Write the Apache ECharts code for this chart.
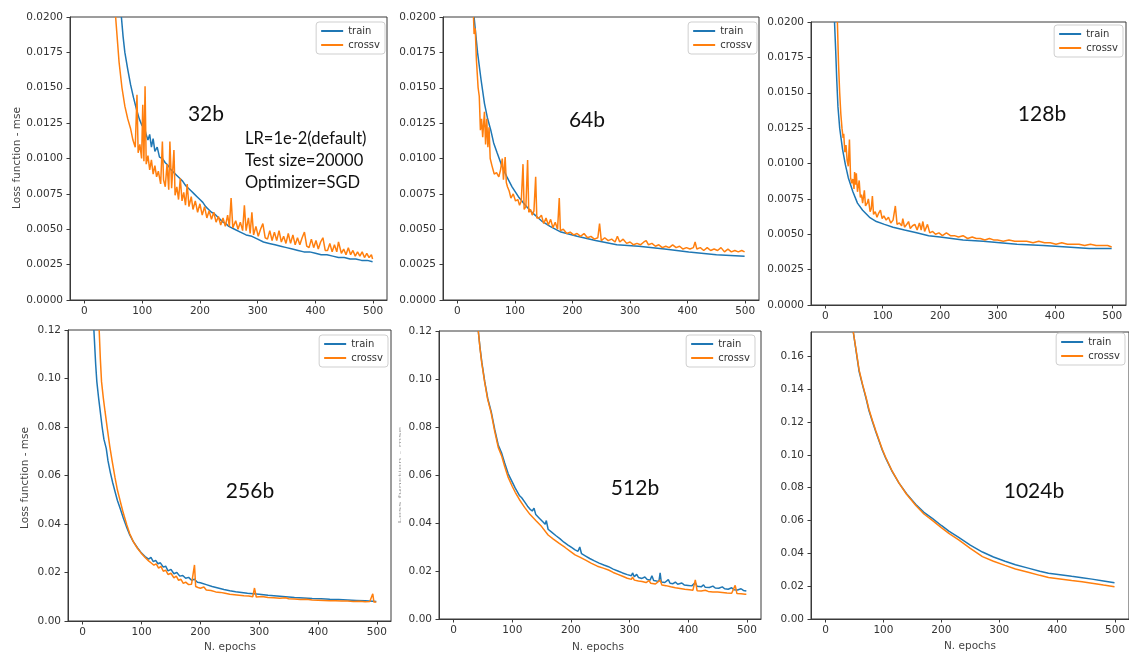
<!DOCTYPE html>
<html><head><meta charset="utf-8">
<script src="https://cdn.jsdelivr.net/npm/echarts@6/dist/echarts.min.js"></script>
<style>html,body{margin:0;padding:0;background:#fff}#c{width:1129px;height:653px}</style>
</head><body><div id="c"></div>
<script>
// ---------- data (epoch, loss) ----------
const xTickValues = [0, 100, 200, 300, 400, 500];
const yTicksTop = [0, 0.0025, 0.005, 0.0075, 0.01, 0.0125, 0.015, 0.0175, 0.02];
const yTicksBottom = [0, 0.02, 0.04, 0.06, 0.08, 0.10, 0.12];
const yTicks1024 = [0, 0.02, 0.04, 0.06, 0.08, 0.10, 0.12, 0.14, 0.16];
const seriesNames = ['train', 'crossv'];
const panelLabels = ['32b', '64b', '128b', '256b', '512b', '1024b'];
const noteLines = ['LR=1e-2(default)', 'Test size=20000', 'Optimizer=SGD'];

const train32 = [[64,0.0200],[67,0.0186],[70,0.0175],[75,0.0163],[80,0.0152],[85,0.0143],[90,0.0135],[95,0.0128],[100,0.0123],[103,0.0126],[106,0.0118],[110,0.0113],[113,0.0117],[116,0.0108],[119,0.0114],[122,0.0105],[126,0.0108],[130,0.0101],[135,0.0100],[140,0.0097],[145,0.0095],[150,0.0092],[155,0.0090],[160,0.0088],[165,0.0086],[170,0.0084],[175,0.0081],[180,0.0079],[185,0.0077],[190,0.0075],[195,0.0073],[200,0.0071],[205,0.0069],[210,0.0066],[215,0.0064],[220,0.0062],[225,0.0061],[230,0.0059],[235,0.0057],[240,0.0055],[245,0.0054],[250,0.0052],[260,0.0050],[270,0.0048],[280,0.0046],[290,0.0045],[300,0.0043],[310,0.0041],[320,0.0040],[330,0.0039],[340,0.0038],[350,0.0037],[360,0.0036],[370,0.0035],[380,0.0034],[390,0.0034],[400,0.0033],[410,0.0032],[420,0.0032],[430,0.0031],[440,0.0030],[450,0.0030],[460,0.0029],[470,0.0029],[480,0.0028],[490,0.0028],[499,0.0027]];
const cross32 = [[54,0.0200],[60,0.0168],[65,0.0150],[70,0.0137],[75,0.0128],[80,0.0121],[84,0.0113],[88,0.0108],[91,0.0145],[93,0.0104],[96,0.0110],[99,0.0100],[101,0.0138],[103,0.0098],[105,0.0151],[107,0.0096],[110,0.0102],[113,0.0092],[116,0.0099],[119,0.0089],[122,0.0095],[125,0.0087],[128,0.0091],[132,0.0082],[135,0.0112],[137,0.0085],[140,0.0080],[143,0.0096],[146,0.0078],[148,0.0112],[151,0.0079],[155,0.0106],[157,0.0074],[160,0.0080],[163,0.0071],[166,0.0086],[169,0.0070],[172,0.0076],[175,0.0067],[178,0.0082],[181,0.0066],[185,0.0073],[188,0.0064],[192,0.0070],[196,0.0062],[200,0.0068],[204,0.0060],[208,0.0066],[212,0.0058],[216,0.0063],[220,0.0057],[224,0.0062],[228,0.0055],[232,0.0059],[236,0.0053],[240,0.0058],[244,0.0052],[248,0.0060],[251,0.0052],[254,0.0072],[257,0.0051],[262,0.0056],[266,0.0050],[270,0.0055],[274,0.0049],[277,0.0067],[280,0.0049],[284,0.0058],[287,0.0047],[290,0.0062],[293,0.0046],[297,0.0052],[301,0.0045],[305,0.0050],[309,0.0054],[313,0.0044],[317,0.0043],[321,0.0049],[325,0.0042],[329,0.0048],[333,0.0042],[337,0.0049],[341,0.0041],[345,0.0045],[349,0.0040],[353,0.0047],[357,0.0040],[361,0.0046],[365,0.0039],[369,0.0044],[373,0.0039],[377,0.0044],[381,0.0048],[385,0.0038],[389,0.0037],[393,0.0043],[397,0.0037],[401,0.0042],[405,0.0036],[409,0.0041],[413,0.0044],[417,0.0035],[421,0.0035],[425,0.0040],[429,0.0034],[433,0.0039],[437,0.0034],[440,0.0041],[445,0.0033],[449,0.0036],[453,0.0032],[457,0.0037],[461,0.0032],[465,0.0035],[469,0.0031],[473,0.0034],[477,0.0031],[481,0.0034],[485,0.0030],[489,0.0033],[493,0.0030],[497,0.0032],[499,0.0029]];

const train64 = [[29,0.0200],[35,0.0175],[41,0.0156],[47,0.0139],[52,0.0129],[58,0.0120],[63,0.0111],[69,0.0104],[77,0.0095],[86,0.0087],[95,0.0080],[106,0.0073],[118,0.0067],[132,0.0061],[146,0.0056],[161,0.0052],[180,0.0048],[208,0.0045],[240,0.0042],[277,0.0039],[315,0.0038],[360,0.0036],[402,0.0034],[450,0.0032],[499,0.0031]];
const cross64 = [[28,0.0200],[29,0.0188],[31,0.0192],[33,0.0170],[36,0.0150],[38,0.0144],[40,0.0120],[42,0.0128],[44,0.0115],[47,0.0133],[49,0.0110],[51,0.0128],[53,0.0108],[55,0.0122],[57,0.0100],[60,0.0095],[64,0.0089],[68,0.0090],[72,0.0087],[75,0.0092],[78,0.0100],[80,0.0085],[83,0.0101],[85,0.0083],[87,0.0080],[90,0.0077],[93,0.0072],[97,0.0075],[101,0.0070],[105,0.0071],[108,0.0067],[111,0.0070],[114,0.0096],[116,0.0064],[119,0.0066],[122,0.0099],[124,0.0062],[127,0.0064],[130,0.0060],[133,0.0063],[136,0.0087],[138,0.0058],[142,0.0058],[146,0.0060],[150,0.0054],[154,0.0058],[158,0.0053],[162,0.0057],[166,0.0051],[170,0.0055],[174,0.0050],[177,0.0072],[179,0.0049],[184,0.0050],[190,0.0047],[196,0.0048],[202,0.0046],[208,0.0047],[214,0.0045],[220,0.0047],[226,0.0044],[232,0.0045],[238,0.0043],[244,0.0044],[247,0.0054],[250,0.0042],[256,0.0044],[262,0.0042],[268,0.0043],[274,0.0041],[278,0.0045],[282,0.0041],[288,0.0043],[294,0.0040],[300,0.0041],[306,0.0039],[312,0.0040],[318,0.0039],[324,0.0041],[328,0.0042],[332,0.0039],[338,0.0040],[344,0.0038],[350,0.0039],[356,0.0037],[362,0.0038],[368,0.0037],[374,0.0039],[380,0.0037],[386,0.0038],[392,0.0036],[398,0.0037],[404,0.0036],[410,0.0037],[413,0.0041],[416,0.0036],[422,0.0037],[428,0.0035],[434,0.0037],[440,0.0035],[446,0.0036],[452,0.0035],[458,0.0037],[464,0.0034],[470,0.0036],[476,0.0034],[482,0.0035],[488,0.0034],[494,0.0035],[499,0.0034]];

const train128 = [[16,0.0200],[18,0.0180],[20,0.0158],[22,0.0140],[25,0.0125],[30,0.0110],[35,0.0099],[40,0.0090],[48,0.0080],[56,0.0072],[65,0.0067],[77,0.0062],[89,0.0059],[103,0.0057],[118,0.0055],[138,0.0053],[159,0.0051],[180,0.0049],[200,0.0048],[240,0.0046],[275,0.0045],[334,0.0043],[380,0.0042],[421,0.0041],[460,0.0040],[499,0.0040]];
const cross128 = [[21,0.0200],[23,0.0170],[25,0.0150],[27,0.0135],[29,0.0125],[31,0.0118],[32,0.0121],[34,0.0108],[36,0.0113],[38,0.0102],[40,0.0098],[42,0.0117],[44,0.0090],[46,0.0086],[48,0.0089],[50,0.0082],[51,0.0094],[53,0.0085],[54,0.0093],[56,0.0080],[59,0.0088],[61,0.0076],[63,0.0078],[65,0.0072],[68,0.0081],[70,0.0070],[73,0.0072],[75,0.0075],[78,0.0066],[80,0.0068],[82,0.0077],[84,0.0064],[87,0.0066],[90,0.0062],[93,0.0065],[96,0.0067],[99,0.0061],[102,0.0063],[106,0.0060],[110,0.0062],[114,0.0058],[118,0.0060],[122,0.0070],[125,0.0057],[129,0.0058],[133,0.0056],[135,0.0061],[138,0.0055],[142,0.0057],[145,0.0059],[148,0.0054],[152,0.0056],[156,0.0057],[160,0.0053],[164,0.0058],[167,0.0053],[170,0.0059],[173,0.0052],[178,0.0057],[182,0.0051],[187,0.0052],[192,0.0050],[198,0.0051],[204,0.0049],[211,0.0051],[218,0.0049],[225,0.0049],[232,0.0048],[240,0.0049],[248,0.0047],[256,0.0048],[263,0.0047],[270,0.0047],[278,0.0046],[286,0.0047],[293,0.0046],[300,0.0046],[310,0.0045],[320,0.0046],[330,0.0045],[340,0.0045],[351,0.0045],[362,0.0044],[372,0.0045],[382,0.0044],[392,0.0044],[402,0.0043],[412,0.0044],[422,0.0043],[432,0.0043],[442,0.0043],[452,0.0042],[462,0.0043],[472,0.0042],[482,0.0042],[492,0.0042],[499,0.0041]];

const train256 = [[19,0.1200],[22,0.1060],[24,0.0987],[27,0.0920],[30,0.0860],[33,0.0800],[36,0.0750],[40,0.0712],[43,0.0660],[47,0.0612],[51,0.0570],[55,0.0533],[59,0.0497],[64,0.0462],[69,0.0425],[75,0.0385],[80,0.0355],[86,0.0327],[93,0.0302],[100,0.0280],[106,0.0266],[112,0.0255],[116,0.0262],[120,0.0245],[124,0.0250],[128,0.0236],[132,0.0240],[137,0.0222],[141,0.0226],[145,0.0207],[150,0.0213],[155,0.0195],[160,0.0200],[165,0.0185],[170,0.0188],[175,0.0176],[180,0.0180],[185,0.0168],[190,0.0172],[195,0.0160],[200,0.0158],[210,0.0150],[220,0.0142],[230,0.0136],[240,0.0130],[250,0.0125],[260,0.0121],[270,0.0118],[280,0.0114],[290,0.0112],[300,0.0110],[315,0.0106],[330,0.0103],[345,0.0100],[360,0.0097],[375,0.0095],[390,0.0093],[405,0.0092],[420,0.0090],[435,0.0089],[450,0.0087],[465,0.0085],[480,0.0083],[499,0.0080]];
const cross256 = [[28,0.1200],[30,0.1080],[32,0.0987],[35,0.0920],[38,0.0863],[42,0.0790],[46,0.0720],[50,0.0660],[55,0.0590],[59,0.0540],[64,0.0492],[69,0.0445],[75,0.0396],[80,0.0360],[86,0.0327],[93,0.0300],[100,0.0278],[106,0.0262],[112,0.0248],[117,0.0238],[121,0.0230],[125,0.0236],[129,0.0218],[133,0.0225],[137,0.0205],[141,0.0210],[145,0.0192],[150,0.0197],[155,0.0178],[159,0.0185],[163,0.0168],[167,0.0172],[171,0.0155],[175,0.0160],[180,0.0150],[185,0.0152],[188,0.0145],[190,0.0231],[192,0.0142],[196,0.0138],[200,0.0135],[206,0.0140],[210,0.0128],[218,0.0126],[226,0.0120],[234,0.0118],[242,0.0114],[250,0.0110],[258,0.0108],[266,0.0106],[274,0.0104],[282,0.0103],[289,0.0100],[292,0.0136],[295,0.0099],[305,0.0101],[315,0.0097],[325,0.0096],[335,0.0094],[345,0.0096],[350,0.0092],[360,0.0091],[370,0.0089],[380,0.0090],[390,0.0087],[400,0.0086],[410,0.0085],[420,0.0084],[430,0.0084],[440,0.0082],[450,0.0082],[460,0.0080],[470,0.0081],[480,0.0079],[488,0.0080],[493,0.0112],[495,0.0078],[499,0.0078]];

const train512 = [[42,0.1200],[45,0.1130],[48,0.1070],[53,0.0989],[58,0.0920],[64,0.0864],[70,0.0790],[76,0.0725],[78,0.0728],[82,0.0690],[87,0.0650],[93,0.0605],[96,0.0600],[100,0.0570],[105,0.0545],[107,0.0548],[112,0.0515],[116,0.0505],[121,0.0488],[126,0.0470],[130,0.0458],[134,0.0450],[137,0.0462],[140,0.0435],[146,0.0420],[152,0.0405],[156,0.0395],[158,0.0410],[161,0.0374],[167,0.0362],[174,0.0348],[181,0.0335],[188,0.0320],[195,0.0308],[201,0.0298],[207,0.0288],[212,0.0282],[215,0.0300],[218,0.0272],[225,0.0262],[232,0.0252],[240,0.0242],[248,0.0233],[256,0.0225],[264,0.0218],[272,0.0208],[280,0.0200],[288,0.0192],[296,0.0185],[303,0.0180],[305,0.0192],[308,0.0176],[312,0.0186],[315,0.0173],[321,0.0169],[326,0.0175],[330,0.0165],[335,0.0162],[338,0.0180],[341,0.0160],[346,0.0158],[350,0.0157],[352,0.0192],[354,0.0154],[360,0.0152],[366,0.0164],[369,0.0149],[374,0.0147],[378,0.0154],[382,0.0145],[389,0.0150],[393,0.0142],[400,0.0140],[406,0.0138],[412,0.0152],[415,0.0136],[422,0.0134],[426,0.0142],[429,0.0132],[436,0.0131],[442,0.0137],[446,0.0129],[452,0.0128],[458,0.0134],[462,0.0126],[468,0.0124],[474,0.0130],[478,0.0122],[484,0.0121],[490,0.0126],[494,0.0119],[499,0.0117]];
const cross512 = [[42,0.1200],[45,0.1125],[48,0.1065],[53,0.0985],[58,0.0915],[64,0.0858],[70,0.0782],[76,0.0715],[82,0.0678],[87,0.0635],[93,0.0590],[100,0.0552],[105,0.0528],[112,0.0498],[121,0.0465],[130,0.0436],[140,0.0410],[150,0.0385],[161,0.0350],[170,0.0333],[180,0.0315],[190,0.0298],[200,0.0280],[207,0.0267],[215,0.0258],[218,0.0262],[225,0.0245],[235,0.0232],[245,0.0220],[255,0.0212],[264,0.0204],[272,0.0194],[280,0.0186],[288,0.0178],[296,0.0170],[303,0.0165],[305,0.0175],[308,0.0162],[315,0.0158],[321,0.0156],[328,0.0152],[333,0.0160],[336,0.0149],[344,0.0146],[352,0.0162],[355,0.0142],[362,0.0139],[370,0.0134],[378,0.0130],[386,0.0127],[394,0.0124],[402,0.0122],[408,0.0120],[412,0.0163],[415,0.0118],[422,0.0117],[429,0.0120],[434,0.0115],[442,0.0113],[450,0.0112],[458,0.0110],[466,0.0108],[474,0.0107],[480,0.0140],[483,0.0106],[490,0.0105],[497,0.0103],[499,0.0103]];

const train1024 = [[48,0.1749],[53,0.1630],[58,0.1510],[64,0.1425],[70,0.1345],[75,0.1270],[81,0.1203],[87,0.1140],[93,0.1080],[98,0.1030],[104,0.0980],[115,0.0900],[127,0.0828],[140,0.0763],[156,0.0698],[170,0.0650],[185,0.0612],[200,0.0570],[213,0.0535],[230,0.0497],[250,0.0450],[271,0.0408],[290,0.0378],[310,0.0352],[328,0.0331],[350,0.0310],[370,0.0291],[385,0.0279],[405,0.0270],[425,0.0260],[443,0.0252],[460,0.0243],[480,0.0232],[499,0.0221]];
const cross1024 = [[48,0.1749],[53,0.1635],[58,0.1518],[64,0.1430],[70,0.1352],[75,0.1278],[81,0.1210],[87,0.1146],[93,0.1085],[98,0.1035],[104,0.0984],[115,0.0902],[127,0.0828],[140,0.0760],[156,0.0692],[170,0.0640],[185,0.0600],[200,0.0557],[213,0.0522],[230,0.0482],[250,0.0430],[271,0.0380],[290,0.0352],[310,0.0327],[328,0.0305],[350,0.0285],[370,0.0266],[385,0.0253],[405,0.0244],[425,0.0235],[443,0.0227],[460,0.0218],[480,0.0207],[499,0.0197]];

// ---------- layout ----------
const FONT = 'DejaVu Sans';
const BLUE = '#1f77b4', ORANGE = '#ff7f0e', SPINE = '#3a3a3a', TXT = '#333';
const panels = [
  {grid:{left:70, top:17, width:317, height:283}, yMax:0.02, yTicks:yTicksTop, dec:4, train:train32, cross:cross32, legend:{right:744, top:22}},
  {grid:{left:443, top:17, width:316, height:283}, yMax:0.02, yTicks:yTicksTop, dec:4, train:train64, cross:cross64, legend:{right:372, top:22}},
  {grid:{left:811, top:22, width:315, height:283}, yMax:0.02, yTicks:yTicksTop, dec:4, train:train128, cross:cross128, legend:{right:6, top:25}},
  {grid:{left:68, top:330, width:323, height:291}, yMax:0.12, yTicks:yTicksBottom, dec:2, train:train256, cross:cross256, legend:{right:741, top:335}},
  {grid:{left:439, top:331, width:322, height:288}, yMax:0.12, yTicks:yTicksBottom, dec:2, train:train512, cross:cross512, legend:{right:374, top:335}},
  {grid:{left:811, top:332, width:318, height:287}, yMax:0.1749, yTicks:yTicks1024, dec:2, train:train1024, cross:cross1024, legend:{right:4, top:333}}
];

const option = {animation:false, backgroundColor:'#fff', grid:[], xAxis:[], yAxis:[], series:[], legend:[], graphic:[]};
panels.forEach((p, i) => {
  option.grid.push(Object.assign({show:true, borderColor:SPINE, borderWidth:1, backgroundColor:'#fff'}, p.grid));
  option.xAxis.push({type:'value', gridIndex:i, min:-25, max:524,
    axisLine:{show:true, onZero:false, lineStyle:{color:SPINE}},
    axisTick:{show:true, length:3.5, lineStyle:{color:SPINE}, customValues:xTickValues},
    axisLabel:{color:TXT, fontFamily:FONT, fontSize:10.5, margin:6, customValues:xTickValues},
    splitLine:{show:false}});
  option.yAxis.push({type:'value', gridIndex:i, min:0, max:p.yMax,
    axisLine:{show:true, onZero:false, lineStyle:{color:SPINE}},
    axisTick:{show:true, length:3.5, lineStyle:{color:SPINE}, customValues:p.yTicks},
    axisLabel:{color:TXT, fontFamily:FONT, fontSize:10.5, margin:7, customValues:p.yTicks,
      formatter:v => v.toFixed(p.dec)},
    splitLine:{show:false}});
  option.series.push({name:seriesNames[0], type:'line', xAxisIndex:i, yAxisIndex:i, data:p.train,
    showSymbol:false, symbol:'none', clip:true, lineStyle:{color:BLUE, width:1.5}, itemStyle:{color:BLUE}});
  option.series.push({name:seriesNames[1], type:'line', xAxisIndex:i, yAxisIndex:i, data:p.cross,
    showSymbol:false, symbol:'none', clip:true, lineStyle:{color:ORANGE, width:1.5}, itemStyle:{color:ORANGE}});
  option.legend.push(Object.assign({data:seriesNames, orient:'vertical', icon:'rect', itemWidth:22, itemHeight:2,
    itemGap:4, padding:[4,5,4,5], borderColor:'#cfcfcf', borderWidth:1, borderRadius:3, backgroundColor:'#fff',
    selectedMode:false, textStyle:{color:TXT, fontFamily:FONT, fontSize:10}}, p.legend));
});

const annot = (text, x, y, size) => ({type:'text', x, y, z:100,
  style:{text, fill:'#111', font:size + 'px Lato', textAlign:'center', textVerticalAlign:'middle'}});
option.graphic.push(annot(panelLabels[0], 206, 114, 21));
option.graphic.push(annot(panelLabels[1], 587, 120, 21));
option.graphic.push(annot(panelLabels[2], 1042, 114, 21));
option.graphic.push(annot(panelLabels[3], 250, 491, 21));
option.graphic.push(annot(panelLabels[4], 635, 488, 21));
option.graphic.push(annot(panelLabels[5], 1034, 491, 21));
noteLines.forEach((t, k) => option.graphic.push({type:'text', x:245, y:139 + k * 22, z:100,
  style:{text:t, fill:'#111', font:'16.5px Lato', textAlign:'left', textVerticalAlign:'middle'}}));

const vlabel = (x, y, extra) => Object.assign({type:'text', x, y, rotation:Math.PI/2, z:100,
  style:{text:'Loss function - mse', fill:'#444', font:'10.5px "DejaVu Sans"', textAlign:'center', textVerticalAlign:'middle'}}, extra || {});
option.graphic.push(vlabel(17, 158));
option.graphic.push(vlabel(25, 478));
option.graphic.push(vlabel(400, 475, {scaleY:0.35, style:{text:'Loss function - mse', fill:'#999', font:'10px "DejaVu Sans"', textAlign:'center', textVerticalAlign:'middle'}}));
const xname = (x, y) => ({type:'text', x, y, z:100,
  style:{text:'N. epochs', fill:'#444', font:'10.5px "DejaVu Sans"', textAlign:'center', textVerticalAlign:'middle'}});
option.graphic.push(xname(230, 647));
option.graphic.push(xname(598, 647));
option.graphic.push(xname(970, 646));

const chart = echarts.init(document.getElementById('c'), null, {renderer:'canvas'});
chart.setOption(option);
</script>
</body></html>
